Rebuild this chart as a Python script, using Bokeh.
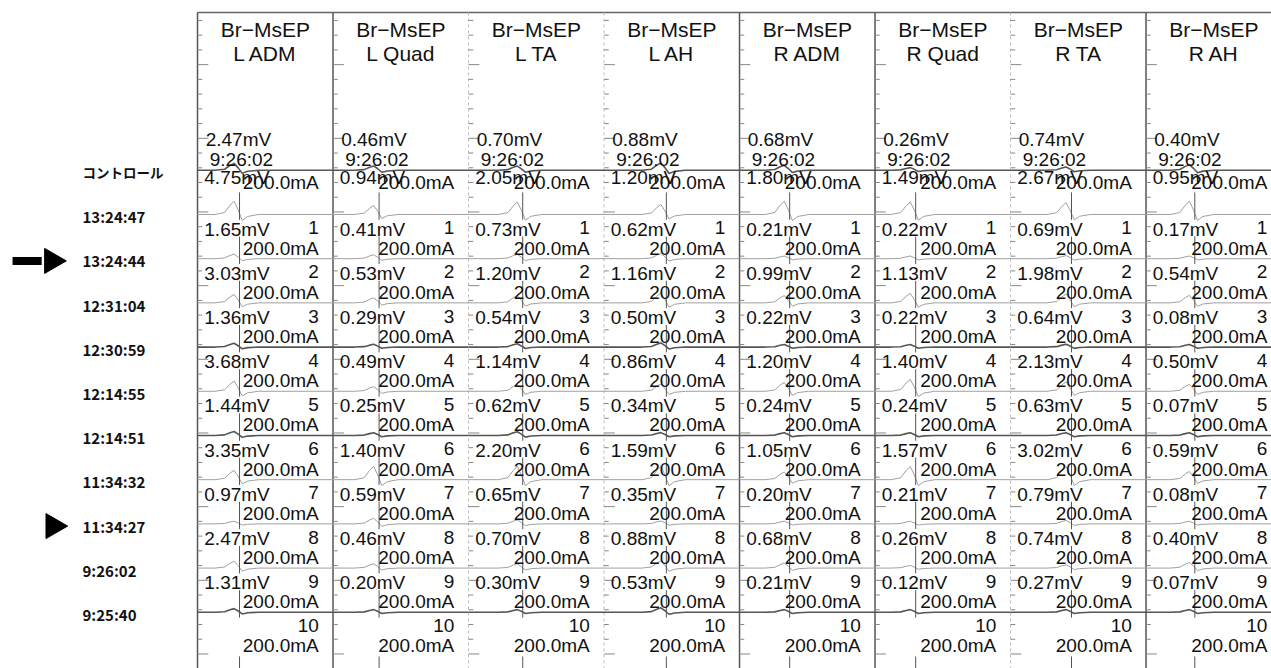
import numpy as np
from bokeh.plotting import figure
from bokeh.models import Range1d
from bokeh.core.properties import value
from bokeh.embed import file_html
from bokeh.resources import INLINE

# ---------------- data ----------------
modality = "Br−MsEP"
channels = ["L ADM", "L Quad", "L TA", "L AH", "R ADM", "R Quad", "R TA", "R AH"]
row_labels = ["コントロール", "13:24:47", "13:24:44", "12:31:04", "12:30:59",
              "12:14:55", "12:14:51", "11:34:32", "11:34:27", "9:26:02", "9:25:40"]
reference_time = "9:26:02"
reference_amp = [2.47, 0.46, 0.70, 0.88, 0.68, 0.26, 0.74, 0.40]
control_amp = [4.75, 0.94, 2.05, 1.20, 1.80, 1.49, 2.67, 0.95]

amp_L_ADM = [1.65, 3.03, 1.36, 3.68, 1.44, 3.35, 0.97, 2.47, 1.31]
amp_L_Quad = [0.41, 0.53, 0.29, 0.49, 0.25, 1.40, 0.59, 0.46, 0.20]
amp_L_TA = [0.73, 1.20, 0.54, 1.14, 0.62, 2.20, 0.65, 0.70, 0.30]
amp_L_AH = [0.62, 1.16, 0.50, 0.86, 0.34, 1.59, 0.35, 0.88, 0.53]
amp_R_ADM = [0.21, 0.99, 0.22, 1.20, 0.24, 1.05, 0.20, 0.68, 0.21]
amp_R_Quad = [0.22, 1.13, 0.22, 1.40, 0.24, 1.57, 0.21, 0.26, 0.12]
amp_R_TA = [0.69, 1.98, 0.64, 2.13, 0.63, 3.02, 0.79, 0.74, 0.27]
amp_R_AH = [0.17, 0.54, 0.08, 0.50, 0.07, 0.59, 0.08, 0.40, 0.07]
trial_amps = [amp_L_ADM, amp_L_Quad, amp_L_TA, amp_L_AH,
              amp_R_ADM, amp_R_Quad, amp_R_TA, amp_R_AH]

trial_numbers = [1, 2, 3, 4, 5, 6, 7, 8, 9, 10]
stim_mA = [200.0, 200.0, 200.0, 200.0, 200.0, 200.0, 200.0, 200.0, 200.0, 200.0, 200.0]

sweep_ms = 100.0
latency_ms = [27, 30, 36, 42, 33, 26, 41, 32]
shape_dt = [-14, -7, -3, 0, 3, 6, 10, 18]
shape_v = [0.0, 0.15, 0.7, 1.0, 0.35, -0.45, -0.15, 0.0]

arrow_row = row_labels.index("13:24:44")
triangle_row = row_labels.index("11:34:27")

# ---------------- figure ----------------
p = figure(width=1271, height=668, output_backend="svg", toolbar_location=None,
           x_axis_type=None, y_axis_type=None,
           x_range=Range1d(-1.454, 7.926), y_range=Range1d(11.222, -3.891),
           min_border=0, outline_line_color=None)
p.grid.visible = False
p.background_fill_color = "white"

ncol = len(channels)
top_y = -3.62
bot_y = 11.3
FONT = value("Liberation Sans")
JFONT = value("Noto Sans CJK JP")
TXT = "#111111"

# frame: top border and column separators
p.segment(x0=[0], y0=[top_y], x1=[ncol], y1=[top_y], line_color="#666", line_width=1.5)
solid_cols = [0, 1, 4, 5, 7]
dashed_cols = [2, 3, 6]
p.segment(x0=solid_cols, y0=[top_y] * len(solid_cols), x1=solid_cols,
          y1=[bot_y] * len(solid_cols), line_color="#555", line_width=1.5)
p.segment(x0=dashed_cols, y0=[top_y] * len(dashed_cols), x1=dashed_cols,
          y1=[bot_y] * len(dashed_cols), line_color="#bbb", line_width=1,
          line_dash="3 3")

# tick marks at each column's left edge
tick_y = np.arange(-3.44, bot_y, 1.0 / 3.0)
tx0, ty, tx1 = [], [], []
for c in range(ncol):
    for j, yy in enumerate(tick_y):
        tx0.append(c)
        ty.append(yy)
        tx1.append(c + (0.08 if j % 5 == 3 else 0.035))
p.segment(x0=tx0, y0=ty, x1=tx1, y1=ty, line_color="#888", line_width=1)

# traces
def trace(c, amp, base, col_max):
    lat = latency_ms[c]
    h = max(0.06, 0.3 * amp / col_max)
    xs = [c + 0.0] + [c + (lat + d) / sweep_ms for d in shape_dt] + [c + 1.0]
    ys = [base] + [base - h * v for v in shape_v] + [base]
    return xs, ys

gx, gy, dx, dy = [], [], [], []
mx0, my0, my1 = [], [], []
dark_rows = [3, 5, 9]
for c in range(ncol):
    col_vals = [control_amp[c]] + trial_amps[c]
    col_max = max(col_vals)
    xs, ys = trace(c, reference_amp[c], -0.05, col_max)
    dx.append(xs); dy.append(ys)
    for r, amp in enumerate(col_vals):
        base = r + 0.95
        xs, ys = trace(c, amp, base, col_max)
        if r in dark_rows:
            dx.append(xs); dy.append(ys)
        else:
            gx.append(xs); gy.append(ys)
        mx0.append(c + (latency_ms[c] + 4) / sweep_ms)
        my0.append(base - 0.5)
        my1.append(base + 0.12)
    mx0.append(c + (latency_ms[c] + 4) / sweep_ms)
    my0.append(len(col_vals) + 0.95)
    my1.append(len(col_vals) + 1.25)

p.multi_line(xs=gx, ys=gy, line_color="#a0a0a0", line_width=1)
p.multi_line(xs=dx, ys=dy, line_color="#555", line_width=1.6)
p.segment(x0=mx0, y0=my0, x1=mx0, y1=my1, line_color="#555", line_width=1)

# headers
cx = [c + 0.5 for c in range(ncol)]
p.text(x=cx, y=[-3.24] * ncol, text=[modality] * ncol, text_font=FONT,
       text_font_size="21px", text_align="center", text_baseline="middle",
       text_color=TXT)
p.text(x=cx, y=[-2.69] * ncol, text=channels, text_font=FONT,
       text_font_size="21px", text_align="center", text_baseline="middle",
       text_color=TXT)

FS = "19px"
left = [c + 0.05 for c in range(ncol)]
right = [c + 0.895 for c in range(ncol)]
p.text(x=[c + 0.06 for c in range(ncol)], y=[-0.74] * ncol,
       text=[f"{a:.2f}mV" for a in reference_amp],
       text_font=FONT, text_font_size=FS, text_align="left",
       text_baseline="middle", text_color=TXT)
p.text(x=[c + 0.09 for c in range(ncol)], y=[-0.29] * ncol,
       text=[reference_time] * ncol, text_font=FONT, text_font_size=FS,
       text_align="left", text_baseline="middle", text_color=TXT)
p.text(x=left, y=[0.12] * ncol, text=[f"{a:.2f}mV" for a in control_amp],
       text_font=FONT, text_font_size=FS, text_align="left",
       text_baseline="middle", text_color=TXT)
p.text(x=right, y=[0.23] * ncol, text=[f"{stim_mA[0]:.1f}mA"] * ncol,
       text_font=FONT, text_font_size=FS, text_align="right",
       text_baseline="middle", text_color=TXT)

# trial cells
ax, ay, at, nx, ny, nt, sx, sy, st = [], [], [], [], [], [], [], [], []
for c in range(ncol):
    for k in trial_numbers:
        if k <= len(trial_amps[c]):
            ax.append(c + 0.05); ay.append(k + 0.28)
            at.append(f"{trial_amps[c][k - 1]:.2f}mV")
        nx.append(c + 0.895); ny.append(k + 0.25); nt.append(str(k))
        sx.append(c + 0.895); sy.append(k + 0.71); st.append(f"{stim_mA[k]:.1f}mA")
p.text(x=ax, y=ay, text=at, text_font=FONT, text_font_size=FS,
       text_align="left", text_baseline="middle", text_color=TXT)
p.text(x=nx, y=ny, text=nt, text_font=FONT, text_font_size=FS,
       text_align="right", text_baseline="middle", text_color=TXT)
p.text(x=sx, y=sy, text=st, text_font=FONT, text_font_size=FS,
       text_align="right", text_baseline="middle", text_color=TXT)

# row labels on the left
p.text(x=[-0.849], y=[0], text=row_labels[:1],
       text_font=JFONT, text_font_size="13.5px", text_font_style="bold",
       text_align="left", text_baseline="middle", text_color=TXT)
p.text(x=[-0.849] * (len(row_labels) - 1), y=list(range(1, len(row_labels))),
       text=row_labels[1:], text_font=JFONT, text_font_size="15px",
       text_font_style="bold", text_align="left", text_baseline="middle",
       text_color=TXT)

# arrow and triangle markers
p.segment(x0=[-1.365], y0=[arrow_row], x1=[-1.15], y1=[arrow_row],
          line_color="black", line_width=8)
p.scatter(x=[-1.075], y=[arrow_row], marker="triangle", size=25,
          angle=-np.pi / 2, fill_color="black", line_color="black")
p.scatter(x=[-1.065], y=[triangle_row], marker="triangle", size=25,
          angle=-np.pi / 2, fill_color="black", line_color="black")

open("out.html", "w").write(file_html(p, INLINE))
